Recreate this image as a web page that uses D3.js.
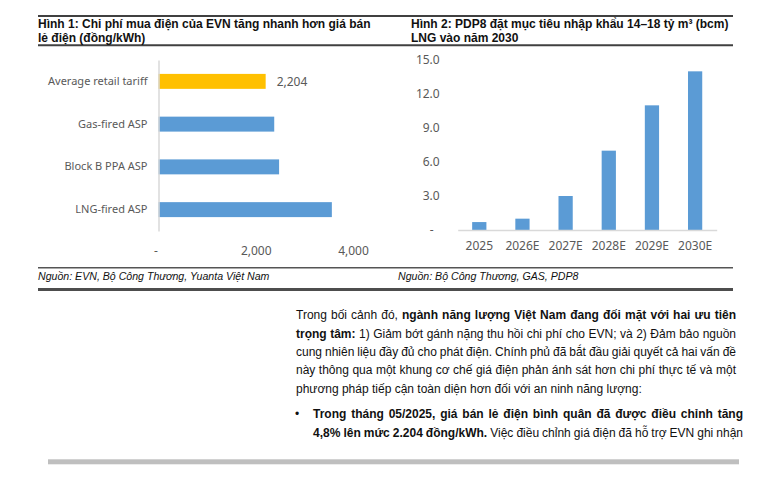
<!DOCTYPE html>
<html>
<head>
<meta charset="utf-8">
<script src="https://cdn.jsdelivr.net/npm/d3@7"></script>
<style>
  body { margin: 0; background: #fff; }
  svg { display: block; }
</style>
</head>
<body>
<svg id="page" width="778" height="487"></svg>
<script>
// Hinh 1 data (dong/kWh)
const costCategories = ["Average retail tariff", "Gas-fired ASP", "Block B PPA ASP", "LNG-fired ASP"];
const costValues = [2204, 2380, 2480, 3565];
const costTicks = [0, 2000, 4000];

// Hinh 2 data (bcm)
const lngYears = ["2025", "2026E", "2027E", "2028E", "2029E", "2030E"];
const lngValues = [0.7, 1.0, 3.0, 7.0, 11.0, 14.0];
const lngTicks = [0, 3, 6, 9, 12, 15];

let svg = d3.select("#page");
let gray = "#595959";
let blue = "#5b9bd5";
let chartFont = "'Noto Sans', 'Open Sans', sans-serif";
let docFont = "'Liberation Sans', Arial, sans-serif";

// frame lines
function hline(y, w, col, x1, x2) {
  svg.append("line").attr("x1", x1 || 38).attr("x2", x2 || 733)
    .attr("y1", y).attr("y2", y)
    .attr("stroke", col).attr("stroke-width", w);
}
hline(16, 2, "#404040");
hline(45.2, 2, "#404040");
hline(267.8, 1.5, "#555");
hline(289.6, 3, "#4d4d4d");

// titles
function title(x, lines) {
  let t = svg.append("text").attr("font-family", docFont).attr("font-weight", "bold")
    .attr("font-size", 12).attr("fill", "#111");
  lines.forEach(function (s, i) {
    t.append("tspan").attr("x", x).attr("y", 28.4 + i * 13.3).text(s);
  });
}
title(38, ["Hình 1: Chi phí mua điện của EVN tăng nhanh hơn giá bán", "lẻ điện (đồng/kWh)"]);
title(411, ["Hình 2: PDP8 đặt mục tiêu nhập khẩu 14–18 tỷ m³ (bcm)", "LNG vào năm 2030"]);

svg.append("text").attr("x", 38).attr("y", 279.5).attr("font-family", docFont)
  .attr("font-style", "italic").attr("font-size", 10.6).attr("fill", "#111")
  .text("Nguồn: EVN, Bộ Công Thương, Yuanta Việt Nam");
svg.append("text").attr("x", 398).attr("y", 279.5).attr("font-family", docFont)
  .attr("font-style", "italic").attr("font-size", 10.6).attr("fill", "#111")
  .text("Nguồn: Bộ Công Thương, GAS, PDP8");

// ---- Hinh 1: horizontal bars ----
let x1 = d3.scaleLinear().domain([0, 4000]).range([158.5, 353]);
let y1 = d3.scaleBand().domain(costCategories).range([60, 231])
  .paddingInner(0.65).paddingOuter(0.325);

let g1 = svg.append("g");
g1.selectAll("rect").data(costCategories).enter().append("rect")
  .attr("x", x1(0))
  .attr("y", function (d) { return y1(d); })
  .attr("height", y1.bandwidth())
  .attr("width", function (d, i) { return x1(costValues[i]) - x1(0); })
  .attr("fill", function (d, i) { return i == 0 ? "#ffc000" : blue; });

let yAxis1 = g1.append("g").attr("transform", "translate(" + x1(0) + ",0)")
  .call(d3.axisLeft(y1).tickSize(0).tickPadding(11));
yAxis1.select(".domain").attr("stroke", "#d9d9d9").attr("stroke-width", 1.5);
yAxis1.selectAll("text").attr("font-family", chartFont).attr("font-size", 11).attr("fill", gray);

let xAxis1 = g1.append("g").attr("transform", "translate(0,243)")
  .call(d3.axisBottom(x1).tickValues(costTicks).tickSize(0)
    .tickFormat(function (d) { return d == 0 ? "-" : d3.format(",")(d); }));
xAxis1.select(".domain").remove();
xAxis1.selectAll("text").attr("font-family", chartFont).attr("font-size", 12).attr("fill", gray)
  .attr("dx", function (d) { return d == 0 ? -3 : 0; });

g1.append("text")
  .attr("x", x1(costValues[0]) + 11)
  .attr("y", y1(costCategories[0]) + y1.bandwidth() / 2)
  .attr("dy", "0.35em")
  .attr("font-family", chartFont).attr("font-size", 12).attr("fill", gray)
  .text(d3.format(",")(costValues[0]));

// ---- Hinh 2: vertical bars ----
let x2 = d3.scaleBand().domain(lngYears).range([457.7, 716.7])
  .paddingInner(0.67).paddingOuter(0.335);
let y2 = d3.scaleLinear().domain([0, 15]).range([230, 60]);

let g2 = svg.append("g");
g2.selectAll("rect").data(lngYears).enter().append("rect")
  .attr("x", function (d) { return x2(d); })
  .attr("width", x2.bandwidth())
  .attr("y", function (d, i) { return y2(lngValues[i]); })
  .attr("height", function (d, i) { return y2(0) - y2(lngValues[i]); })
  .attr("fill", blue);

let xAxis2 = g2.append("g").attr("transform", "translate(0," + y2(0) + ")")
  .call(d3.axisBottom(x2).tickSize(0).tickPadding(11));
xAxis2.select(".domain").attr("stroke", "#d9d9d9").attr("stroke-width", 1.5);
xAxis2.selectAll("text").attr("font-family", chartFont).attr("font-size", 12).attr("fill", gray);

let yAxis2 = g2.append("g").attr("transform", "translate(457.7,0)")
  .call(d3.axisLeft(y2).tickValues(lngTicks).tickSize(0).tickPadding(18)
    .tickFormat(function (d) { return d == 0 ? "-" : d3.format(".1f")(d); }));
yAxis2.select(".domain").remove();
yAxis2.selectAll("text").attr("font-family", chartFont).attr("font-size", 12).attr("fill", gray)
  .attr("dx", function (d) { return d == 0 ? -6 : 0; });

// ---- body text ----
let bodyLines = [
  { x: 296, w: 440, y: 319.3, just: true, parts: [["Trong bối cảnh đó, ", false], ["ngành năng lượng Việt Nam đang đối mặt với hai ưu tiên", true]] },
  { x: 296, w: 440, y: 337.6, just: true, parts: [["trọng tâm:", true], [" 1) Giảm bớt gánh nặng thu hồi chi phí cho EVN; và 2) Đảm bảo nguồn", false]] },
  { x: 296, w: 440, y: 356.0, just: true, parts: [["cung nhiên liệu đầy đủ cho phát điện. Chính phủ đã bắt đầu giải quyết cả hai vấn đề", false]] },
  { x: 296, w: 440, y: 374.3, just: true, parts: [["này thông qua một khung cơ chế giá điện phản ánh sát hơn chi phí thực tế và một", false]] },
  { x: 296, w: 440, y: 392.6, just: false, parts: [["phương pháp tiếp cận toàn diện hơn đối với an ninh năng lượng:", false]] },
  { x: 313, w: 430, y: 418.2, just: true, parts: [["Trong tháng 05/2025, giá bán lẻ điện bình quân đã được điều chỉnh tăng", true]] },
  { x: 313, w: 430, y: 436.5, just: true, parts: [["4,8% lên mức 2.204 đồng/kWh.", true], [" Việc điều chỉnh giá điện đã hỗ trợ EVN ghi nhận", false]] }
];

let body = svg.append("g").attr("font-family", docFont).attr("font-size", 12).attr("fill", "#111");
bodyLines.forEach(function (ln) {
  let t = body.append("text").attr("x", ln.x).attr("y", ln.y);
  ln.parts.forEach(function (p) {
    t.append("tspan").attr("font-weight", p[1] ? "bold" : "normal").text(p[0]);
  });
  if (ln.just) {
    let natural = t.node().getComputedTextLength();
    let spaces = ln.parts.map(function (p) { return p[0]; }).join("").split(" ").length - 1;
    t.attr("word-spacing", (ln.w - natural) / spaces);
  }
});
body.append("text").attr("x", 297).attr("y", 418.2).attr("text-anchor", "middle").text("•");

svg.append("rect").attr("x", 48).attr("y", 459.3).attr("width", 691).attr("height", 5).attr("fill", "#bfbfbf");
</script>
</body>
</html>
